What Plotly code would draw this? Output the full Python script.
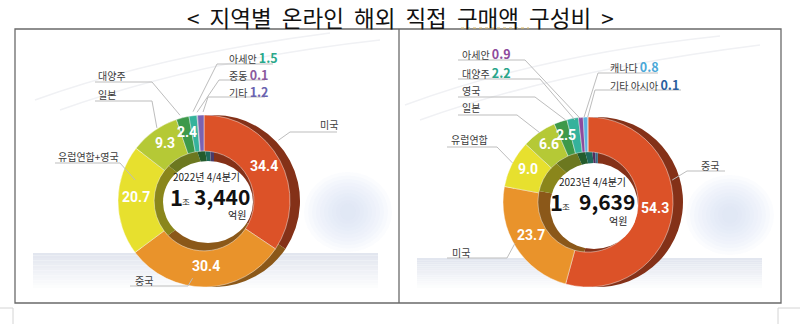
import math
import plotly.graph_objects as go

W, H = 800, 324

title_words = ["<", "지역별", "온라인", "해외", "직접", "구매액", "구성비", ">"]

# ---------------- data ----------------
period_22 = "2022년 4/4분기"
total_22 = "3,440"
labels_22 = ["미국", "중국", "유럽연합+영국", "일본", "대양주", "아세안", "중동", "기타"]
values_22 = [34.4, 30.4, 20.7, 9.3, 2.4, 1.5, 0.1, 1.2]

period_23 = "2023년 4/4분기"
total_23 = "9,639"
labels_23 = ["중국", "미국", "유럽연합", "일본", "영국", "대양주", "아세안", "캐나다", "기타 아시아"]
values_23 = [54.3, 23.7, 9.0, 6.6, 2.5, 2.2, 0.9, 0.8, 0.1]

total_prefix = "1"
unit_jo = "조"
unit_eok = "억원"

# ---------------- style ----------------
colors_22 = ["#dc5228", "#e9932b", "#e7e02e", "#b5c936", "#3d994a", "#35b29c", "#5d3f86", "#7b63b2"]
colors_23 = ["#dc5228", "#e9932b", "#e7e02e", "#b5c936", "#3d994a", "#35b29c", "#8d4b9e", "#5cb2e2", "#2a66a8"]

# label layout: name -> (text_x_left, text_y, ul_x0, ul_x1, ul_y, start_side, frac_in_slice, radius, show_value, value_color)
lab_22 = {
    "미국": (318, 125, 290, 337, 132, "l", 0.41, 96, False, None),
    "중국": (133, 280, 130, 188, 286, "r", 0.59, 78, False, None),
    "유럽연합+영국": (56, 157, 55, 120, 163, "r", 0.72, 72, False, None),
    "일본": (96, 95, 95, 152, 101, "r", 0.58, 87, False, None),
    "대양주": (96, 75, 95, 152, 82, "r", 0.36, 89, False, None),
    "아세안": (227, 57, 217, 273, 64, "l", 0.57, 90, True, "#2aa88a"),
    "중동": (227, 74, 219, 265, 80, "l", 0.5, 89, True, "#8b5a9e"),
    "기타": (227, 91, 208, 265, 97, "l", 0.86, 89, True, "#6b64b0"),
}
lab_23 = {
    "중국": (699, 165, 687, 725, 171, "l", 0.386, 87, False, None),
    "미국": (450, 252, 447, 507, 258, "r", 0.53, 84, False, None),
    "유럽연합": (449, 139, 447, 497, 147, "r", 0.52, 85, False, None),
    "일본": (460, 108, 458, 517, 115, "r", 0.52, 84, False, None),
    "영국": (460, 90, 458, 535, 97, "r", 0.9, 85, False, None),
    "대양주": (460, 72, 458, 540, 79, "r", 0.68, 83, True, "#2aa58a"),
    "아세안": (460, 53, 458, 525, 60, "r", 0.33, 84, True, "#8e4b9c"),
    "캐나다": (608, 66, 598, 658, 73, "l", 0.2, 85, True, "#4aa8d8"),
    "기타 아시아": (608, 84, 595, 681, 90, "l", 0.5, 85, True, "#2a5f9e"),
}

chart_22 = dict(cx=204, cy=201, R=86, hole=0.58, sdx=10, white=(208, 202, 45, 41),
                period_xy=(207, 176.5), one_xy=(176.5, 195.5), jo_xy=(185.5, 201),
                big_xy=(191.5, 195.5), eok_xy=(237, 215))
chart_23 = dict(cx=588, cy=202, R=85, hole=0.59, sdx=10, white=(594, 206, 44, 43),
                period_xy=(592, 181.5), one_xy=(556.5, 200.5), jo_xy=(566, 206),
                big_xy=(576.5, 200.5), eok_xy=(618, 220))

FONT = "Noto Sans CJK KR"


def px(x):
    return x / W


def py(y):
    return 1 - y / H


def darken(hexc, f=0.6):
    hexc = hexc.lstrip("#")
    r, g, b = (int(hexc[i:i + 2], 16) for i in (0, 2, 4))
    return "rgb(%d,%d,%d)" % (r * f, g * f, b * f)


def pt(cx, cy, ang, r):
    a = math.radians(ang)
    return cx + r * math.sin(a), cy - r * math.cos(a)


def ann(x, y, text, size, color="#222", family=FONT, xanchor="center"):
    annotations.append(dict(x=px(x), y=py(y), xref="paper", yref="paper", showarrow=False, text=text,
                            xanchor=xanchor, yanchor="middle",
                            font=dict(family=family, size=size, color=color)))


fig = go.Figure()
shapes = []
annotations = []

# ---------- background decoration ----------
def band(x0, x1, y0, y1, n=14):
    for i in range(n):
        t = i / n
        c0 = (226, 230, 239)
        c = tuple(int(c0[k] + (255 - c0[k]) * t) for k in range(3))
        shapes.append(dict(type="rect", xref="paper", yref="paper", layer="below",
                           x0=px(x0), x1=px(x1), y0=py(y0 + (y1 - y0) * i / n),
                           y1=py(y0 + (y1 - y0) * (i + 1) / n),
                           fillcolor="rgb(%d,%d,%d)" % c, line=dict(width=0)))

band(33, 378, 253, 288)
band(417, 762, 258, 288)

for (gx, gy) in [(348, 212), (730, 215)]:
    for k in range(10):
        rx = 44 - k * 4
        ry = 40 - k * 3.5
        shapes.append(dict(type="circle", xref="paper", yref="paper", layer="below",
                           x0=px(gx - rx), x1=px(gx + rx), y0=py(gy + ry), y1=py(gy - ry),
                           fillcolor="#d2e0f2", opacity=0.09, line=dict(width=0)))

for path in [(35, 100, 160, 55, 330, 33), (60, 110, 200, 60, 380, 40),
             (405, 105, 540, 55, 720, 36), (420, 120, 560, 70, 760, 45)]:
    p = "M %.4f %.4f Q %.4f %.4f %.4f %.4f" % (px(path[0]), py(path[1]), px(path[2]),
                                               py(path[3]), px(path[4]), py(path[5]))
    shapes.append(dict(type="path", xref="paper", yref="paper", layer="below", path=p,
                       line=dict(color="#f0f1f4", width=1.5)))


def add_donut(labels, values, colors, chart, labspec, period, total):
    cx, cy, R, hole, sdx = chart["cx"], chart["cy"], chart["R"], chart["hole"], chart["sdx"]
    tot = sum(values)
    sx = cx + sdx
    fig.add_trace(go.Pie(labels=labels, values=values, sort=False, direction="clockwise", rotation=0,
                         hole=0.3, textinfo="none", hoverinfo="skip", showlegend=False,
                         marker=dict(colors=[darken(c) for c in colors], line=dict(width=0)),
                         domain=dict(x=[px(sx - R), px(sx + R)], y=[py(cy + R), py(cy - R)])))
    fig.add_trace(go.Pie(labels=labels, values=values, sort=False, direction="clockwise", rotation=0,
                         hole=hole, textinfo="none", hoverinfo="label+value", showlegend=False,
                         marker=dict(colors=colors, line=dict(color="rgba(255,255,255,0.55)", width=0.8)),
                         domain=dict(x=[px(cx - R), px(cx + R)], y=[py(cy + R), py(cy - R)])))
    wx, wy, rx, ry = chart["white"]
    shapes.append(dict(type="circle", xref="paper", yref="paper", layer="above",
                       x0=px(wx - rx), x1=px(wx + rx), y0=py(wy + ry), y1=py(wy - ry),
                       fillcolor="white", line=dict(width=0)))
    cum = 0
    rmid = R * (1 + hole) / 2
    for lab, v in zip(labels, values):
        a0 = cum / tot * 360
        cum += v
        a1 = cum / tot * 360
        tx, ty, u0, u1, uy, side, frac, rr, showv, vcol = labspec[lab]
        if not showv:
            mx, my = pt(cx, cy, (a0 + a1) / 2, rmid)
            ann(mx, my - 3, "<b>%.1f</b>" % v, 14, "white", "Roboto")
            text = lab
        else:
            text = "%s <span style='font-size:12.5px;color:%s'><b>%.1f</b></span>" % (lab, vcol, v)
        ann(tx, ty, text, 10, "#3c3c3c", FONT, "left")
        shapes.append(dict(type="line", xref="paper", yref="paper", x0=px(u0), x1=px(u1), y0=py(uy), y1=py(uy),
                           line=dict(color="#bdbdbd", width=1)))
        ex, ey = pt(cx, cy, a0 + (a1 - a0) * frac, rr)
        sxp = u0 if side == "l" else u1
        shapes.append(dict(type="line", xref="paper", yref="paper", x0=px(sxp), y0=py(uy), x1=px(ex), y1=py(ey),
                           line=dict(color="#bdbdbd", width=1)))
    x, y = chart["period_xy"]
    ann(x, y, period, 10, "#222")
    x, y = chart["one_xy"]
    ann(x, y, "<b>%s</b>" % total_prefix, 22, "#111")
    x, y = chart["jo_xy"]
    ann(x, y, unit_jo, 8.5, "#222")
    x, y = chart["big_xy"]
    ann(x, y, "<b>%s</b>" % total, 21, "#111", FONT, "left")
    x, y = chart["eok_xy"]
    ann(x, y, unit_eok, 10, "#222")


add_donut(labels_22, values_22, colors_22, chart_22, lab_22, period_22, total_22)
add_donut(labels_23, values_23, colors_23, chart_23, lab_23, period_23, total_23)

# ---------- frame ----------
shapes.append(dict(type="rect", xref="paper", yref="paper", x0=px(15), x1=px(781), y0=py(303), y1=py(29),
                   line=dict(color="#6a6a6a", width=1.3), layer="above"))
shapes.append(dict(type="line", xref="paper", yref="paper", x0=px(399), x1=px(399), y0=py(303), y1=py(29),
                   line=dict(color="#6a6a6a", width=1.3)))
for (x0, y0, x1, y1) in [(0, 308, 13, 308), (13, 308, 13, 324), (778, 308, 800, 308), (778, 308, 778, 324)]:
    shapes.append(dict(type="line", xref="paper", yref="paper", x0=px(x0), x1=px(x1), y0=py(y0), y1=py(y1),
                       line=dict(color="#d4d4d4", width=1)))

# ---------- title ----------
title_text = " \u00a0".join(title_words)
ann(400, 16.8, title_text, 22.5, "#111")
shapes.append(dict(type="line", xref="paper", yref="paper", x0=px(461), x1=px(529), y0=py(28), y1=py(28),
                   line=dict(color="#d8b45c", width=1, dash="dot")))

fig.update_layout(width=W, height=H, margin=dict(l=0, r=0, t=0, b=0), paper_bgcolor="white",
                  plot_bgcolor="white", shapes=shapes, annotations=annotations, showlegend=False)

fig.write_html("out.html")
